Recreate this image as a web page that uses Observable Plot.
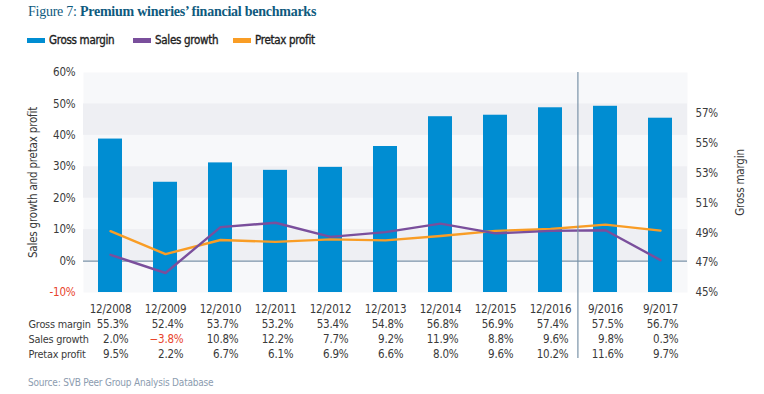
<!DOCTYPE html>
<html>
<head>
<meta charset="utf-8">
<script src="https://cdn.jsdelivr.net/npm/d3@7"></script>
<script src="https://cdn.jsdelivr.net/npm/@observablehq/plot@0.6"></script>
<style>
  html, body { margin: 0; padding: 0; background: #fff; width: 764px; height: 394px; overflow: hidden; }
  body { position: relative; font-family: "Liberation Sans Narrow", "DejaVu Sans Condensed", "Liberation Sans", sans-serif; }
  #title { position: absolute; left: 28px; top: 4px; font-family: "Liberation Serif", "DejaVu Serif", serif; font-size: 14px; letter-spacing: -0.25px; color: #0e5a7e; white-space: nowrap; }
  #title b { font-weight: bold; }
  #legend { position: absolute; left: 0; top: 32px; width: 400px; height: 16px; font-size: 11.5px; letter-spacing: -0.3px; color: #1e1e1e; -webkit-text-stroke: 0.35px #1e1e1e; }
  .item { position: absolute; top: 0; display: flex; align-items: center; white-space: nowrap; height: 16px; }
  .sw { width: 18px; height: 5px; margin-right: 4px; flex: none; }
  #chart { position: absolute; left: 0; top: 56px; }
  #source { position: absolute; left: 28px; top: 377px; font-size: 10px; letter-spacing: -0.2px; color: #8c9caf; white-space: nowrap; }
</style>
</head>
<body>
<div id="title">Figure 7: <b>Premium wineries’ financial benchmarks</b></div>
<div id="legend"></div>
<div id="chart"></div>
<div id="source">Source: SVB Peer Group Analysis Database</div>
<script>
// ---- data ----
const periods = ["12/2008","12/2009","12/2010","12/2011","12/2012","12/2013","12/2014","12/2015","12/2016","9/2016","9/2017"];
const grossMargin = [55.3, 52.4, 53.7, 53.2, 53.4, 54.8, 56.8, 56.9, 57.4, 57.5, 56.7];
const salesGrowth = [2.0, -3.8, 10.8, 12.2, 7.7, 9.2, 11.9, 8.8, 9.6, 9.8, 0.3];
const pretaxProfit = [9.5, 2.2, 6.7, 6.1, 6.9, 6.6, 8.0, 9.6, 10.2, 11.6, 9.7];
const leftTicks = [-10, 0, 10, 20, 30, 40, 50, 60];
const rightTicks = [45, 47, 49, 51, 53, 55, 57];
const bandStripes = [[40, 50], [20, 30], [0, 10]];
const seriesNames = ["Gross margin", "Sales growth", "Pretax profit"];
const splitPeriod = "9/2016";

// ---- styles ----
const C = {bar: "#008dd2", sales: "#7a4f9c", profit: "#f99d25", zero: "#7b93a8", band: "#eeeff3", bg: "#f7f8fa", text: "#3a3a3a", neg: "#e8452c"};
const colors = [C.bar, C.sales, C.profit];

// legend
const legend = document.getElementById("legend");
const legendLeft = [27, 133, 233];
seriesNames.forEach((n, i) => {
  const it = document.createElement("div");
  it.className = "item";
  it.style.left = legendLeft[i] + "px";
  it.innerHTML = `<span class="sw" style="background:${colors[i]}"></span><span>${n}</span>`;
  legend.appendChild(it);
});

const rows = periods.map((p, i) => ({p, gm: grossMargin[i], sg: salesGrowth[i], pp: pretaxProfit[i]}));

// right axis (gross margin) mapped into left-axis units
const gmToLeft = d3.scaleLinear().domain([45, 45 + 70 / 4.74]).range([-10, 60]);

const fmt = v => (v < 0 ? "\u2212" + Math.abs(v).toFixed(1) : v.toFixed(1)) + "%";

const plot = Plot.plot({
  width: 764,
  height: 306,
  marginTop: 16,
  marginBottom: 70,
  marginLeft: 83,
  marginRight: 77,
  style: {fontFamily: '"Liberation Sans Narrow", "DejaVu Sans Condensed", "Liberation Sans", sans-serif', fontSize: "11.5px", letterSpacing: "-0.2px", color: C.text, background: "transparent"},
  x: {domain: periods, paddingInner: 0.566, paddingOuter: 0.244, axis: null},
  y: {domain: [-10, 60], axis: null},
  marks: [
    Plot.frame({fill: C.bg, stroke: null}),
    Plot.rectY(bandStripes, {y1: d => d[0], y2: d => d[1], fill: C.band}),
    Plot.ruleY([0], {stroke: C.zero, strokeWidth: 1.3}),
    Plot.barY(rows, {x: "p", y1: -10, y2: d => gmToLeft(d.gm), fill: C.bar}),
    Plot.line(rows, {x: "p", y: "pp", stroke: C.profit, strokeWidth: 2.4}),
    Plot.line(rows, {x: "p", y: "sg", stroke: C.sales, strokeWidth: 2.4}),
    Plot.ruleX([splitPeriod], {x: d => d, dx: -27.6, stroke: C.zero, strokeWidth: 1.2, insetBottom: -66}),
    // left axis ticks
    Plot.text(leftTicks, {y: d => d, frameAnchor: "left", dx: -8, textAnchor: "end", text: d => d + "%", fill: d => d < 0 ? C.neg : C.text}),
    // right axis ticks
    Plot.text(rightTicks, {y: d => gmToLeft(d), frameAnchor: "right", dx: 8, textAnchor: "start", text: d => d + "%", fill: C.text}),
    // axis titles
    Plot.text(["Sales growth and pretax profit"], {frameAnchor: "left", dx: -50, rotate: -90, textAnchor: "middle", fill: C.text}),
    Plot.text(["Gross margin"], {frameAnchor: "right", dx: 53, rotate: -90, textAnchor: "middle", fill: C.text}),
    // table header
    Plot.text(rows, {x: "p", frameAnchor: "bottom", dy: 20.5, text: "p", fill: C.text}),
    // table rows
    Plot.text(rows, {x: "p", frameAnchor: "bottom", dy: 35, dx: 18, textAnchor: "end", text: d => fmt(d.gm), fill: C.text}),
    Plot.text(rows, {x: "p", frameAnchor: "bottom", dy: 50, dx: 18, textAnchor: "end", text: d => fmt(d.sg), fill: d => d.sg < 0 ? C.neg : C.text}),
    Plot.text(rows, {x: "p", frameAnchor: "bottom", dy: 65, dx: 18, textAnchor: "end", text: d => fmt(d.pp), fill: C.text}),
    // row labels
    Plot.text([seriesNames[0]], {frameAnchor: "bottom-left", dx: -55, dy: 35, textAnchor: "start", fontSize: 10.8, fill: C.text}),
    Plot.text([seriesNames[1]], {frameAnchor: "bottom-left", dx: -55, dy: 50, textAnchor: "start", fontSize: 10.8, fill: C.text}),
    Plot.text([seriesNames[2]], {frameAnchor: "bottom-left", dx: -55, dy: 65, textAnchor: "start", fontSize: 10.8, fill: C.text})
  ]
});
document.getElementById("chart").appendChild(plot);
</script>
</body>
</html>
